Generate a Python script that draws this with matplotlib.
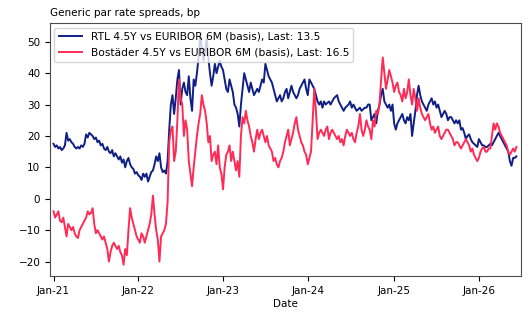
import matplotlib
matplotlib.use("Agg")
import matplotlib.pyplot as plt
import matplotlib.dates as mdates
import pandas as pd

plt.rcParams['font.family'] = ['DejaVu Sans']
plt.rcParams['font.size'] = 7.5

start_date = "2021-01-01"
n_weeks = 285

rtl_values = [
    17.5, 16.5, 17, 16, 16.5, 15.5, 16, 17, 21, 18.5,
    19, 18, 17.5, 16.5, 16, 16.5, 16, 17, 16.5, 17.5,
    20.5, 19.5, 21, 20.5, 20, 19, 19.5, 18, 18.5, 17,
    17.5, 16, 15.5, 16.5, 15, 14.5, 15.5, 13.5, 14.5, 13.5,
    12.5, 13.5, 11.5, 12.5, 10, 12, 13, 11, 10, 9.5,
    8, 8.5, 7.5, 7, 6, 8, 7, 8, 5.5, 7,
    8.5, 9, 11, 13.5, 12, 14.5, 10, 8.5, 9, 8,
    12, 22, 30, 33, 27, 32, 38, 41, 30, 35,
    37, 34, 33, 39, 32, 28, 38, 36, 40, 45,
    52, 48, 44, 47, 51, 45, 40, 36, 39, 43,
    40, 42, 44, 42, 41, 38, 35, 34, 38, 36,
    34, 30, 29, 27, 23, 30, 35, 40, 38, 36,
    34, 37, 35, 33, 34, 35, 34, 36, 38, 37,
    43, 41, 39, 38, 37, 35, 33, 31, 32, 33,
    31, 32, 34, 35, 32, 34, 36, 34, 33, 32,
    33, 35, 36, 37, 38, 35, 33, 38, 37, 36,
    35, 33, 31, 30, 31, 29, 31, 30, 30.5, 31,
    30, 31, 32, 32.5, 33, 31, 30, 29, 28, 29,
    29.5, 30, 31, 29, 30, 29, 28, 28.5, 29, 28,
    28.5, 29, 29, 30, 30, 25, 26, 27, 24, 28,
    30, 33, 35, 31, 30, 29, 30, 28, 30, 24,
    22, 24, 25, 26, 27, 25, 24, 26, 25, 27,
    20, 24, 28, 33, 36, 33, 31, 30, 29, 28,
    30, 31, 32, 30, 31, 29, 30, 28, 26, 27,
    28, 27, 25, 26, 26, 25, 24, 25, 24, 25,
    22, 22.5, 21, 19, 20, 20.5, 19, 18, 17.5, 17,
    16.5, 19, 18, 17, 17, 16.5, 16.5, 17, 17.5, 17,
    18, 19, 20, 21, 20, 19, 18, 17, 16, 15,
    12, 10.5, 13, 13, 13.5,
]

bostader_values = [
    -4, -6, -5, -4, -7, -7.5, -6, -9, -12, -8,
    -9, -10, -9, -11, -12, -12.5, -10, -9, -8, -7,
    -6, -4, -5, -4.5, -3, -8, -11, -10, -11, -12,
    -13, -12, -14, -16, -20, -17, -15, -14, -15, -16,
    -15, -17, -18, -21, -16, -18, -10, -3, -6, -8,
    -10, -12, -13, -14, -11, -12, -14, -12, -10, -8,
    -5, 1, -5, -10, -13, -20, -12, -11, -10, -8,
    -1, 18, 22, 23, 12, 15, 25, 38, 32, 30,
    20, 25, 22, 12, 8, 4, 10, 15, 20, 24,
    27, 33, 30, 28, 24, 18, 20, 12, 14, 15,
    11, 17, 10, 8, 3, 10, 14, 15, 17, 12,
    15, 12, 9, 12, 7, 20, 26, 24, 28, 25,
    23, 20, 18, 15, 19, 22, 19, 21, 22, 20,
    18, 20, 17, 16, 15, 12, 13, 11, 10, 12,
    13, 15, 18, 20, 22, 17, 19, 21, 24, 26,
    22, 20, 18, 17, 15, 14, 11, 13, 15, 25,
    35, 28, 19, 21, 22, 21, 20, 22, 23, 19,
    21, 22, 21, 20, 19, 20, 18, 19, 17, 20,
    22, 21, 20, 21, 19, 18, 21, 23, 27, 22,
    20, 22, 25, 23, 22, 19, 25, 23, 28, 27,
    30, 38, 45, 40, 35, 38, 41, 39, 37, 34,
    36, 37, 34, 33, 31, 35, 32, 34, 38, 33,
    30, 35, 32, 28, 32, 29, 27, 26, 25, 26,
    27, 24, 22, 23, 21, 22, 23, 20, 19, 20,
    21, 22, 22, 21, 20, 19, 17, 18, 18, 17,
    16, 17, 18, 19, 18, 17, 15, 16, 14, 13,
    12, 13, 15, 16, 16.5, 15, 15, 16, 16, 20,
    24, 22, 24, 23, 21, 20, 19, 18, 17, 15,
    14, 15, 16, 15, 16.5,
]

rtl_label = "RTL 4.5Y vs EURIBOR 6M (basis), Last: 13.5"
bostader_label = "Bostäder 4.5Y vs EURIBOR 6M (basis), Last: 16.5"
title = "Generic par rate spreads, bp"

dates = pd.date_range(start_date, periods=n_weeks, freq="7D")

fig = plt.figure(figsize=(5.32, 3.14), dpi=100)
ax = fig.add_axes([0.094, 0.121, 0.885, 0.805])
ax.plot(dates, rtl_values, color="#0f1f85", lw=1.4, label=rtl_label)
ax.plot(dates, bostader_values, color="#ff2a55", lw=1.4, label=bostader_label)

ax.set_xlim(pd.Timestamp("2020-12-17"), pd.Timestamp("2026-07-01"))
ax.set_ylim(-24.6, 55.9)
ax.set_yticks([-20, -10, 0, 10, 20, 30, 40, 50])
ax.xaxis.set_major_locator(mdates.YearLocator())
ax.xaxis.set_major_formatter(mdates.DateFormatter("%b-%y"))
ax.set_xlabel("Date", labelpad=2)
ax.set_title(title, loc="left", fontsize=7.5, pad=5)
ax.legend(loc="upper left", fontsize=7.7, handlelength=2.2, borderaxespad=0.4,
          labelspacing=0.55)
for s in ax.spines.values():
    s.set_color("#4d4d4d")

fig.savefig("out.png", dpi=100)
